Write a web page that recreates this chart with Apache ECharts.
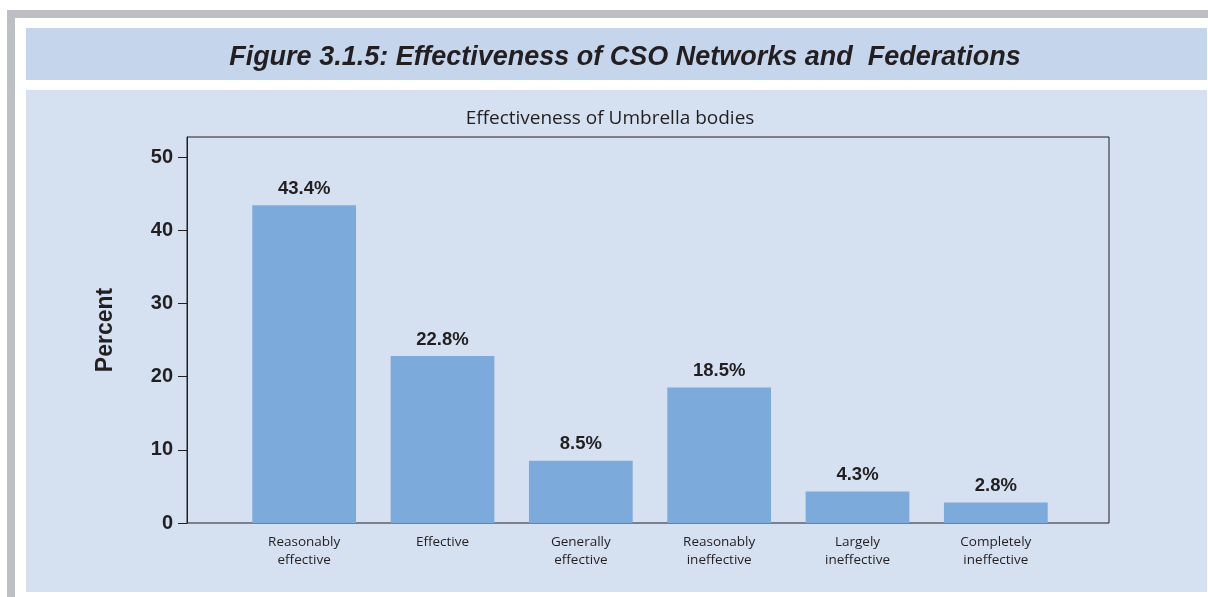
<!DOCTYPE html>
<html>
<head>
<meta charset="utf-8">
<script src="https://cdn.jsdelivr.net/npm/echarts@6/dist/echarts.min.js"></script>
<style>
    body { margin: 0; background: #fff; }
    #wrap { position: relative; width: 1208px; height: 597px; overflow: hidden; }
    .bg { position: absolute; }
    #chart { position: absolute; left: 0; top: 0; width: 1208px; height: 597px; }
</style>
</head>
<body>
<div id="wrap">
    <!-- page frame and panels -->
    <div class="bg" style="left:7px;top:10px;width:1201px;height:8px;background:#bdbfc4"></div>
    <div class="bg" style="left:7px;top:10px;width:8px;height:587px;background:#bdbfc4"></div>
    <div class="bg" style="left:26px;top:28px;width:1181px;height:52px;background:#c5d6ec"></div>
    <div class="bg" style="left:26px;top:90px;width:1181px;height:502px;background:#d5e1f1"></div>
    <div id="chart"></div>
</div>
<script>
    var categories = ['Reasonably\neffective', 'Effective', 'Generally\neffective', 'Reasonably\nineffective', 'Largely\nineffective', 'Completely\nineffective']
    var percents = [43.4, 22.8, 8.5, 18.5, 4.3, 2.8]
    var yTicks = [0, 10, 20, 30, 40, 50]

    var yMax = 52.73   // frame top sits a bit above 50

    var myChart = echarts.init(document.getElementById('chart'))

    var option = {
        backgroundColor: 'transparent',
        animation: false,
        title: [
            {
                text: 'Figure 3.1.5: Effectiveness of CSO Networks and  Federations',
                left: 620,
                top: 39,
                textAlign: 'center',
                textStyle: {
                    fontFamily: 'Liberation Sans',
                    fontWeight: 'bold',
                    fontStyle: 'italic',
                    fontSize: 27,
                    color: '#231f20'
                }
            },
            {
                text: 'Effectiveness of Umbrella bodies',
                left: 605,
                top: 104,
                textAlign: 'center',
                textStyle: {
                    fontFamily: 'Open Sans',
                    fontWeight: 'normal',
                    fontSize: 19,
                    color: '#231f20'
                }
            }
        ],
        grid: [
            // frame with the y axis
            {
                left: 187, top: 137, width: 922, height: 386,
                show: true, borderColor: '#231f20', borderWidth: 1,
                backgroundColor: 'transparent'
            },
            // bars
            { left: 235, top: 137, width: 830, height: 386 }
        ],
        xAxis: [
            { type: 'value', gridIndex: 0, show: false },
            {
                type: 'category',
                gridIndex: 1,
                data: categories,
                axisLine: { show: false },
                axisTick: { show: false },
                axisLabel: {
                    margin: 10,
                    fontFamily: 'Open Sans',
                    fontSize: 13.5,
                    lineHeight: 18,
                    color: '#231f20'
                }
            }
        ],
        yAxis: [
            {
                type: 'value',
                gridIndex: 0,
                min: 0,
                max: yMax,
                name: 'Percent',
                nameLocation: 'middle',
                nameGap: 70,
                nameTextStyle: {
                    fontFamily: 'Liberation Sans',
                    fontWeight: 'bold',
                    fontSize: 23,
                    color: '#231f20'
                },
                axisLine: { show: true, lineStyle: { color: '#231f20', width: 1 } },
                axisTick: {
                    show: true, inside: false, length: 9,
                    customValues: yTicks,
                    lineStyle: { color: '#231f20' }
                },
                axisLabel: {
                    customValues: yTicks,
                    margin: 14,
                    fontFamily: 'Liberation Sans',
                    fontWeight: 'bold',
                    fontSize: 20,
                    color: '#231f20'
                },
                splitLine: { show: false }
            },
            { type: 'value', gridIndex: 1, min: 0, max: yMax, show: false }
        ],
        series: [
            {
                type: 'bar',
                xAxisIndex: 1,
                yAxisIndex: 1,
                data: percents,
                barCategoryGap: '25%',
                itemStyle: { color: '#7caadb' },
                label: {
                    show: true,
                    position: 'top',
                    distance: 7,
                    formatter: '{c}%',
                    fontFamily: 'Liberation Sans',
                    fontWeight: 'bold',
                    fontSize: 18.5,
                    color: '#231f20'
                }
            }
        ]
    }

    myChart.setOption(option)
</script>
</body>
</html>
